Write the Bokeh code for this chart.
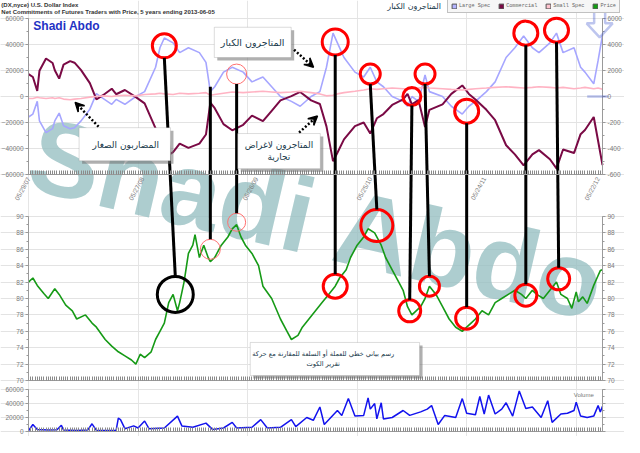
import numpy as np
from bokeh.plotting import figure
from bokeh.models import (Range1d, LinearAxis, FixedTicker, Label, Arrow, VeeHead, Grid,
                          BoxAnnotation, Legend, LegendItem, PolyAnnotation)
from bokeh.embed import file_html
from bokeh.resources import INLINE

# ---------------- data ----------------
TITLE1 = "(DX,nyce) U.S. Dollar Index"
TITLE2 = "Net Commitments of Futures Traders with Price, 5 years ending 2013-06-05"
DATE_TICKS = [0, 52, 104, 156, 208, 260]
DATE_LABELS = ["05/29/07", "05/27/08", "05/26/09", "05/25/10", "05/24/11", "05/22/12"]
COT_TICKS = [-60000, -40000, -20000, 0, 20000, 40000, 60000]
COT_RIGHT_LABELS = ["-600", "-400", "-200", "0", "2000", "4000", "6000"]
PRICE_TICKS = [70, 72, 74, 76, 78, 80, 82, 84, 86, 88, 90]
VOL_TICKS = [0, 20000, 40000, 60000]
LEGEND_NAMES = ["Large Spec", "Commercial", "Small Spec", "Price"]

cot_weeks = [0, 2, 4, 5, 8, 11, 12, 14, 16, 19, 21, 24, 28, 31, 34, 38, 40, 44, 49, 53,
             58, 60, 62, 66, 69, 73, 78, 81, 83, 85, 89, 93, 98, 102, 107, 111, 115, 120, 124, 129,
             133, 136, 139, 141, 144, 149, 153, 156, 159, 162, 166, 171, 173, 175, 178, 181, 183, 189, 193, 198,
             201, 204, 209, 213, 218, 222, 226, 230, 233, 238, 241, 244, 249, 252, 254, 258, 260, 262]
large_spec = [-15750, -13500, -3750, -18750, -27750, -24750, -18750, -12750, -22500, -24750,
              -24000, -18750, -9750, 2250, -1500, -6000, -2250, -6000, 0, 3750,
              22500, 37500, 45000, 41250, 33750, 37500, 33750, 26250, 3750, 7500,
              18750, 22500, 18750, 11250, 15000, 7500, 0, -3750, -7500, 0,
              3750, 22500, 48750, 41250, 30000, 18750, 15000, 22500, 11250, 7500,
              0, -3750, -7500, 0, -3750, 16500, 3750, 0, -7500, -13500,
              -7500, -3750, 3750, 11250, 30000, 37500, 46500, 37500, 33750, 41250,
              48750, 33750, 37500, 22500, 18750, 9750, 27750, 47250]
commercial = [17250, 15000, 4250, 19750, 29250, 25750, 20250, 13750, 24500, 27250,
              26000, 20250, 10250, -2250, 1000, 6000, 1750, 5000, -500, -5250,
              -24500, -40000, -47000, -42750, -36250, -39500, -36250, -29250, -4750, -9000,
              -21250, -26000, -21750, -14750, -19000, -11000, -3000, 250, 3500, -3000,
              -5750, -23000, -49750, -43250, -33000, -22750, -20000, -28500, -16750, -13500,
              -6500, -2250, 2000, -6000, -2750, -23500, -10250, -6000, 2000, 8500,
              2000, -2250, -10250, -18250, -37500, -44500, -53000, -44500, -41250, -48250,
              -55250, -40750, -43500, -29000, -25750, -15750, -34250, -52750]
small_spec = [-1500, -1500, -500, -1000, -1500, -1000, -1500, -1000, -2000, -2500,
              -2000, -1500, -500, 0, 500, 0, 500, 1000, 500, 1500,
              2000, 2500, 2000, 1500, 2500, 2000, 2500, 3000, 1000, 1500,
              2500, 3500, 3000, 3500, 4000, 3500, 3000, 3500, 4000, 3000,
              2000, 500, 1000, 2000, 3000, 4000, 5000, 6000, 5500, 6000,
              6500, 6000, 5500, 6000, 6500, 7000, 6500, 6000, 5500, 5000,
              5500, 6000, 6500, 7000, 7500, 7000, 6500, 7000, 7500, 7000,
              6500, 7000, 6000, 6500, 7000, 6000, 6500, 5500]

price_weeks = [0, 2, 4, 7, 9, 11, 12, 14, 17, 20, 22, 26, 29, 31, 35, 38, 41, 44, 47, 49,
               51, 53, 56, 58, 60, 62, 64, 66, 68, 69, 71, 73, 75, 76, 78, 80, 82, 83, 85, 88,
               91, 93, 95, 97, 99, 102, 105, 107, 111, 115, 118, 120, 123, 125, 128, 131, 134, 137, 140, 142,
               145, 147, 150, 153, 155, 158, 161, 163, 166, 169, 171, 173, 175, 179, 181, 183, 186, 189, 192, 195,
               198, 200, 202, 204, 207, 210, 213, 216, 219, 222, 225, 227, 230, 232, 235, 238, 241, 243, 246, 248,
               250, 251, 253, 255, 258, 260, 261, 262]
price = [82.0, 82.5, 81.6, 80.6, 80.0, 80.8, 81.2, 80.5, 79.2, 78.5, 77.5, 78.0, 77.0, 76.5, 75.0, 74.2, 73.5, 73.0, 72.5, 72.0,
         73.2, 72.8, 73.5, 75.0, 76.0, 77.0, 79.5, 80.5, 78.5, 79.5, 82.0, 85.5, 86.5, 87.8, 85.0, 86.5, 85.0, 84.5, 85.0, 86.5,
         87.5, 88.5, 89.0, 87.5, 86.5, 85.5, 84.0, 81.5, 80.0, 77.5, 76.0, 75.0, 75.5, 76.5, 77.5, 78.5, 79.5, 80.5, 81.5, 82.5,
         83.5, 85.0, 86.5, 87.5, 88.5, 88.0, 86.5, 85.0, 83.5, 82.0, 81.0, 79.0, 78.0, 79.0, 80.0, 81.5, 80.5, 79.0, 77.5, 76.5,
         76.0, 76.5, 77.0, 77.5, 78.5, 78.0, 79.5, 80.0, 80.5, 81.0, 80.5, 80.0, 81.0, 80.5, 80.0, 81.0, 82.0, 80.5, 80.0, 78.8,
         80.8, 79.6, 80.2, 79.4, 81.6, 82.8, 83.4, 83.5]

vol_weeks = [0, 2, 4, 9, 13, 15, 16, 22, 27, 29, 31, 40, 41, 42, 44, 48, 50, 53, 55, 62,
             68, 70, 75, 81, 84, 89, 93, 95, 102, 106, 109, 115, 120, 122, 127, 130, 133, 135, 138, 141,
             143, 146, 149, 153, 155, 156, 158, 159, 161, 162, 166, 171, 174, 179, 182, 184, 187, 190, 195, 198,
             200, 204, 206, 208, 210, 213, 216, 218, 221, 224, 227, 230, 234, 237, 239, 243, 246, 249, 250, 252,
             255, 258, 260, 261, 262]
volume = [1000, 10000, 3000, 2000, 2500, 9000, 2000, 1500, 2000, 11000, 1500, 1500, 19000, 17000, 4000, 8000, 5000, 15000, 4000, 5000,
          22000, 8000, 6000, 12000, 3000, 5000, 13000, 5000, 6000, 17000, 5000, 6000, 17000, 7000, 20000, 16000, 35000, 10000, 20000, 30000,
          23000, 47000, 22000, 23000, 48000, 32000, 40000, 18000, 41000, 18000, 20000, 30000, 23000, 28000, 32000, 37000, 10000, 23000, 20000, 47000,
          26000, 24000, 50000, 25000, 52000, 25000, 32000, 41000, 22000, 58000, 33000, 35000, 20000, 44000, 13000, 25000, 26000, 30000, 42000, 22000,
          20000, 22000, 37000, 28000, 36000]

# annotation anchors (data units: week index and value)
top_circle_w = [62, 140, 156, 175, 181, 200, 227, 241]
top_circle_v = [39000, 42000, 17250, 0, 17250, -11250, 48750, 51000]
top_circle_d = [24, 26, 20, 18, 20, 24, 24, 24]
pink_top_w, pink_top_v, pink_top_d = [95], [17250], [20]
bot_circle_w = [140, 159, 174, 183, 200, 227, 242]
bot_circle_p = [81.5, 88.9, 78.5, 81.5, 77.6, 80.4, 82.4]
bot_circle_d = [24, 32, 22, 20, 22, 22, 22]
pink_bot_w, pink_bot_p, pink_bot_d = [83, 95], [86.0, 89.3], [20, 18]
black_circle_w, black_circle_p, black_circle_d = [67], [80.5], [36]
# connectors: (week_top, value_top, radius_top_px, week_bottom, price_bottom, radius_bottom_px)
connectors = [(62, 39000, 12, 67, 80.5, 18), (83, 7500, 0, 83, 86.0, 10), (95, 17250, 10, 95, 89.3, 9),
              (140, 42000, 13, 140, 81.5, 12), (156, 17250, 10, 159, 88.9, 16), (175, 0, 9, 174, 78.5, 11),
              (181, 17250, 10, 183, 81.5, 10), (200, -11250, 12, 200, 77.6, 11), (227, 48750, 12, 227, 80.4, 11),
              (241, 51000, 12, 242, 82.4, 11)]

TXT_BIG = "المتاجرون الكبار"
TXT_SMALL = "المضاربون الصغار"
TXT_COMM = "المتاجرون لاغراض\nتجارية"
TXT_PRICE = "رسم بياني خطي للعملة أو السلعة للمقارنة مع حركة\nتقرير الكوت"

# ---------------- layout (one frame covering the whole canvas) ----------------
CW, CH = 624, 436
X0, X1 = 28, 602                 # canvas px of week 0 and week 262
Y_COT = (18, 174)                # canvas px of 60000 and -60000
Y_PR = (216, 380)                # canvas px of 90 and 70
Y_VOL = (389, 431)               # canvas px of 60000 and 0
WPP = 262 / (X1 - X0)
VPP1 = 120000 / (Y_COT[1] - Y_COT[0])
VPP2 = 20 / (Y_PR[1] - Y_PR[0])
VPPV = 60000 / (Y_VOL[1] - Y_VOL[0])
XS, XE = -X0 * WPP, 262 + (CW - X1) * WPP
CS, CE = 60000 - (CH - Y_COT[0]) * VPP1, 60000 + Y_COT[0] * VPP1
PS, PE = 70 - (CH - Y_PR[1]) * VPP2, 90 + Y_PR[0] * VPP2
VS, VE = 0 - (CH - Y_VOL[1]) * VPPV, 60000 + Y_VOL[0] * VPPV


def cot_at(cy):
    return CE - cy * VPP1


def price_to_cot(pv):
    return CS + (pv - PS) / (PE - PS) * (CE - CS)


GRAY = "#9a9a9a"
LAB = "#7a7a7a"
AR_COLOR = "#17384a"

p = figure(width=CW, height=CH, x_range=Range1d(XS, XE), y_range=Range1d(CS, CE),
           toolbar_location=None, output_backend="svg", title=None,
           x_axis_location=None, y_axis_location=None, min_border=0,
           background_fill_color="white", border_fill_color="white")
p.outline_line_color = None
p.extra_y_ranges = {"price": Range1d(PS, PE), "vol": Range1d(VS, VE)}

# grids
for rng, ticks in (("default", COT_TICKS), ("price", PRICE_TICKS), ("vol", VOL_TICKS)):
    p.add_layout(Grid(dimension=1, ticker=FixedTicker(ticks=ticks), y_range_name=rng, bounds=(0, 262),
                      grid_line_color="#e3e3e3"))


def add_y(rng, ticks, minor, bounds, overrides=None, right_labels=True):
    for side, loc in (("left", 0), ("right", 262)):
        ax = LinearAxis(y_range_name=rng, fixed_location=loc, bounds=bounds,
                        ticker=FixedTicker(ticks=ticks, minor_ticks=minor))
        ax.axis_line_color = GRAY
        ax.major_tick_line_color = GRAY
        ax.minor_tick_line_color = GRAY
        ax.major_tick_in, ax.major_tick_out = 0, 3
        ax.minor_tick_in, ax.minor_tick_out = 0, 2
        ax.major_label_text_font = "Liberation Sans"
        ax.major_label_text_font_size = "6.5px"
        ax.major_label_text_color = LAB
        ax.major_label_standoff = 2
        if side == "right":
            if overrides:
                ax.major_label_overrides = overrides
            if not right_labels:
                ax.major_label_overrides = {t: "" for t in ticks}
        p.add_layout(ax, side)


def add_x(rng, loc, labels):
    ax = LinearAxis(y_range_name=rng, fixed_location=loc, bounds=(0, 262),
                    ticker=FixedTicker(ticks=DATE_TICKS, minor_ticks=list(range(0, 263))))
    ax.axis_line_color = GRAY
    ax.major_tick_line_color = "#8a8a8a"
    ax.minor_tick_line_color = "#8a8a8a"
    ax.major_tick_in, ax.major_tick_out = 4, 0
    ax.minor_tick_in, ax.minor_tick_out = 4, 0
    ax.major_label_text_font = "Liberation Sans"
    ax.major_label_text_font_size = "6.5px"
    ax.major_label_text_color = LAB
    if labels:
        ax.major_label_overrides = {t: s for t, s in zip(DATE_TICKS, DATE_LABELS)}
        ax.major_label_orientation = 1.07
        ax.major_label_standoff = 3
    else:
        ax.major_label_overrides = {t: "" for t in DATE_TICKS}
        ax.major_label_standoff = 0
    p.add_layout(ax, "below")


add_y("default", COT_TICKS, list(range(-60000, 60001, 10000)), (-60000, 60000),
      overrides={t: s for t, s in zip(COT_TICKS, COT_RIGHT_LABELS)})
add_y("price", PRICE_TICKS, list(range(70, 91)), (70, 90))
add_y("vol", VOL_TICKS, list(range(0, 60001, 10000)), (0, 60000), right_labels=False)
add_x("default", -60000, True)
add_x("price", 70, False)
add_x("vol", 0, False)

# watermark
WM_W, WM_V = 7.7, 1500
p.add_layout(Label(x=WM_W, y=WM_V, text="Shadi Abdo", angle=-0.23, text_align="left",
                   text_baseline="top", text_font="Liberation Sans",
                   text_font_style="bold", text_font_size="106px", text_color="#96bfc2", text_alpha=0.78,
                   level="underlay"))

# series
p.line(cot_weeks, large_spec, line_color="#a6a6ff", line_width=1.6)
p.line(cot_weeks, commercial, line_color="#7a0a45", line_width=2)
p.line(cot_weeks, small_spec, line_color="#ffb3c3", line_width=1.6)
p.line(price_weeks, price, line_color="#169a16", line_width=1.6, y_range_name="price")
p.line(vol_weeks, volume, line_color="#1212ee", line_width=1.5, y_range_name="vol")

# circles
p.scatter(top_circle_w, top_circle_v, size=top_circle_d, marker="circle", fill_alpha=0,
          line_color="#ff0000", line_width=3)
p.scatter(pink_top_w, pink_top_v, size=pink_top_d, marker="circle", fill_alpha=0,
          line_color="#ff7070", line_width=1)
p.scatter(bot_circle_w, bot_circle_p, size=bot_circle_d, marker="circle", fill_alpha=0,
          line_color="#ff0000", line_width=3, y_range_name="price")
p.scatter(pink_bot_w, pink_bot_p, size=pink_bot_d, marker="circle", fill_alpha=0,
          line_color="#ff7070", line_width=1, y_range_name="price")
p.scatter(black_circle_w, black_circle_p, size=black_circle_d, marker="circle", fill_alpha=0,
          line_color="black", line_width=3, y_range_name="price")

# connector lines from the commitments panel to the price panel
cx0 = [c[0] for c in connectors]
cy0 = [c[1] - c[2] * VPP1 for c in connectors]
cx1 = [c[3] for c in connectors]
cy1 = [price_to_cot(c[4]) + c[5] * VPP1 for c in connectors]
p.segment(x0=cx0, y0=cy0, x1=cx1, y1=cy1, line_color="black", line_width=3)


def callout_box(l, r, t, b, vpp, rng="default"):
    p.add_layout(BoxAnnotation(left=l + 3 * WPP, right=r + 3 * WPP, top=t - 3 * vpp, bottom=b - 3 * vpp,
                               fill_color="#707070", fill_alpha=0.55, line_alpha=0, y_range_name=rng))
    p.add_layout(BoxAnnotation(left=l, right=r, top=t, bottom=b, fill_color="white", fill_alpha=1,
                               line_color="#8a8a8a", line_width=1, y_range_name=rng))


def ar_label(x, y, text, size, rng="default"):
    p.add_layout(Label(x=x, y=y, text=text, text_align="center", text_baseline="middle",
                       text_font="DejaVu Sans", text_font_size=size, text_color=AR_COLOR, y_range_name=rng))


def dotted_arrow(x0, y0, x1, y1):
    p.add_layout(Arrow(x_start=x0, y_start=y0, x_end=x1, y_end=y1, line_color="black", line_width=2.5,
                       line_dash="2 2", end=VeeHead(size=9, fill_color="black", line_color="black", line_width=1.5)))


def blue_arrow(tip_w, tip_v, vpp, head_half, shaft_half, head_h, shaft_h, rng="default"):
    dx = [0, -head_half, -shaft_half, -shaft_half, shaft_half, shaft_half, head_half]
    dy = [0, head_h, head_h, head_h + shaft_h, head_h + shaft_h, head_h, head_h]
    p.add_layout(PolyAnnotation(xs=[tip_w + d * WPP for d in dx], ys=[tip_v + d * vpp for d in dy],
                                fill_alpha=0, line_color="#2340c8", line_width=2.5, y_range_name=rng))


callout_box(84.8, 119.9, 53250, 30000, VPP1)
ar_label(102.3, 41500, TXT_BIG, "9.5px")
dotted_arrow(121.2, 36000, 130.1, 22500)

callout_box(23.1, 64.8, -24000, -49500, VPP1)
ar_label(44.4, -37000, TXT_SMALL, "9px")
dotted_arrow(32.0, -23250, 21.3, -4500)

callout_box(95.5, 133.2, -28500, -55500, VPP1)
ar_label(114.3, -42000, TXT_COMM, "9px")
dotted_arrow(123.5, -27750, 131.9, -15000)

callout_box(101.2, 178.5, 74.64, 70.6, VPP2, "price")
ar_label(134.5, 72.62, TXT_PRICE, "6.6px", "price")
p.scatter([169.6], [72.7], marker="star", size=22, fill_color="#2f5fdc", line_color="#1c3aa8",
          y_range_name="price")

blue_arrow(260.7, 45500, VPP1, 13, 5.5, 14, 14)
blue_arrow(259.8, 84.2, VPP2, 10.5, 5, 13, 12, "price")

# header texts
p.add_layout(Label(x=-12.4, y=cot_at(4.5), text=TITLE1, text_align="left", text_baseline="middle",
                   text_font="Liberation Sans", text_font_style="bold", text_font_size="6px", text_color="#333333"))
p.add_layout(Label(x=-12.4, y=cot_at(11.5), text=TITLE2, text_align="left", text_baseline="middle",
                   text_font="Liberation Sans", text_font_style="bold", text_font_size="6px", text_color="#333333"))
ar_label(176.0, cot_at(6), TXT_BIG, "8px")
p.add_layout(Label(x=2.2, y=54000, text="Shadi Abdo", text_align="left", text_baseline="middle",
                   text_font="Liberation Sans", text_font_style="bold", text_font_size="12px", text_color="#1f32c4"))
p.add_layout(Label(x=258, y=52000, text="Volume", text_align="right", text_baseline="middle",
                   text_font="Liberation Sans", text_font_size="6px", text_color="#777777", y_range_name="vol"))

# legend (swatches from nan quads)
sw_colors = ["#b4b4ff", "#7a0a45", "#ffc4cf", "#10a010"]
items = []
for name, col in zip(LEGEND_NAMES, sw_colors):
    r = p.quad(left=[np.nan], right=[np.nan], top=[np.nan], bottom=[np.nan], fill_color=col,
               line_color="#555555")
    items.append(LegendItem(label=name, renderers=[r]))
legend = Legend(items=items, orientation="horizontal", location=(447, CH - 13),
                glyph_width=6, glyph_height=6, label_text_font="Liberation Mono", label_text_font_size="5.2px",
                label_text_color="#666666", label_standoff=2, spacing=8, padding=3, margin=0,
                label_height=6, label_width=10, border_line_color="#8c8c8c", background_fill_color="#f6f6f6",
                background_fill_alpha=1)
p.add_layout(legend)

open("out.html", "w").write(file_html(p, INLINE))
